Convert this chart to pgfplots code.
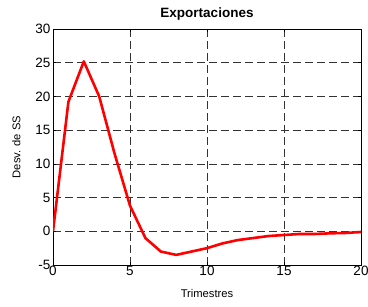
\documentclass[border=0pt]{standalone}
\usepackage{fontspec}
\setmainfont{Liberation Sans}
\usepackage{pgfplots}
\pgfplotsset{compat=1.18}
\begin{document}
\begin{tikzpicture}
\begin{axis}[
  name=ax,
  scale only axis,
  width=308pt, height=236pt,
  xmin=0, xmax=20, ymin=-5, ymax=30,
  xtick={0,5,...,20}, ytick={-5,0,...,30},
  grid=major,
  major grid style={black!80, dash pattern=on 8pt off 4pt, line width=0.6pt},
  axis line style={black, line width=0.8pt},
  tick style={black, line width=0.5pt},
  major tick length=3pt,
  tick align=inside,
  /pgf/number format/assume math mode=true,
  ticklabel style={font=\fontsize{13.5}{14}\selectfont},
  xticklabel style={yshift=2pt},
  yticklabel style={xshift=1pt},
  title={\textbf{Exportaciones}},
  title style={font=\fontsize{13.5}{15}\selectfont, yshift=-1pt},
  xlabel={Trimestres},
  ylabel={Desv. de SS},
  label style={font=\fontsize{11.2}{12}\selectfont},
  xlabel style={yshift=-6pt},
  ylabel style={yshift=8pt},
]
\addplot[red, line width=2.6pt, line join=round] coordinates {
(0,0) (1,19.2) (2,25.2) (3,20) (4,11.5) (5,3.8) (6,-1) (7,-3) (8,-3.5)
(9,-3.0) (10,-2.5) (11,-1.8) (12,-1.3) (13,-1.0) (14,-0.7) (15,-0.55)
(16,-0.4) (17,-0.4) (18,-0.3) (19,-0.25) (20,-0.1)
};
\end{axis}
\pgfresetboundingbox
\path ([xshift=-53pt,yshift=-41pt]ax.south west) rectangle ([xshift=7pt,yshift=29pt]ax.north east);
\end{tikzpicture}
\end{document}
